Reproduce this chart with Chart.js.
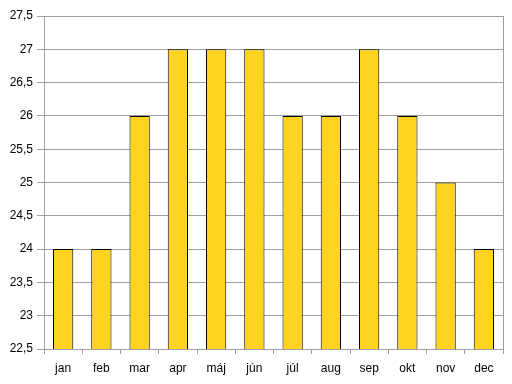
<!DOCTYPE html>
<html>
<head>
<meta charset="utf-8">
<script src="https://cdn.jsdelivr.net/npm/chart.js@4.4.0/dist/chart.umd.min.js"></script>
<style>
  html, body { margin: 0; padding: 0; background: #fff; }
  #wrap { width: 512px; height: 384px; }
</style>
</head>
<body>
<div id="wrap"><canvas id="myBarChart" width="512" height="384"></canvas></div>
<script>
const months = ['jan', 'feb', 'mar', 'apr', 'máj', 'jún', 'júl', 'aug', 'sep', 'okt', 'nov', 'dec'];
const temps = [24, 24, 26, 27, 27, 27, 26, 26, 27, 26, 25, 24];
const yMin = 22.5;
const yMax = 27.5;
const yStep = 0.5;

const gridGray = '#a0a0a0';

const rightBorder = {
    id: 'right_border',
    afterDraw: (chart) => {
        const ctx = chart.ctx;
        const {top, right, bottom} = chart.chartArea;
        ctx.save();
        ctx.strokeStyle = gridGray;
        ctx.lineWidth = 1;
        ctx.beginPath();
        ctx.moveTo(Math.round(right) + 0.5, top);
        ctx.lineTo(Math.round(right) + 0.5, bottom);
        ctx.stroke();
        ctx.restore();
    }
};

const bar = document.getElementById('myBarChart');
const myBar = new Chart(bar, {
    type: 'bar',
    data: {
        labels: months,
        datasets: [{
            data: temps,
            backgroundColor: '#ffd320',
            borderColor: '#000000',
            borderWidth: 1,
            borderSkipped: false,
            barPercentage: 0.53,
            categoryPercentage: 1,
        }]
    },
    options: {
        responsive: false,
        animation: false,
        layout: {
            padding: {left: 0, right: 9, top: 16, bottom: 0}
        },
        plugins: {
            legend: false,
            tooltip: {enabled: false},
        },
        scales: {
            x: {
                offset: true,
                grid: {
                    offset: true,
                    drawOnChartArea: false,
                    color: gridGray,
                    tickLength: 5,
                },
                border: {color: gridGray},
                ticks: {
                    color: '#000',
                    font: {family: 'Liberation Sans, Arial', size: 12},
                    padding: 7,
                },
                afterFit: (scale) => { scale.height = 35; }
            },
            y: {
                min: yMin,
                max: yMax,
                ticks: {
                    stepSize: yStep,
                    color: '#000',
                    font: {family: 'Liberation Sans, Arial', size: 12},
                    padding: 4,
                    callback: (v) => String(v).replace('.', ',')
                },
                grid: {
                    color: gridGray,
                    tickLength: 7,
                },
                border: {color: gridGray},
                afterFit: (scale) => { scale.width = 44; }
            }
        }
    },
    plugins: [rightBorder],
});
</script>
</body>
</html>
